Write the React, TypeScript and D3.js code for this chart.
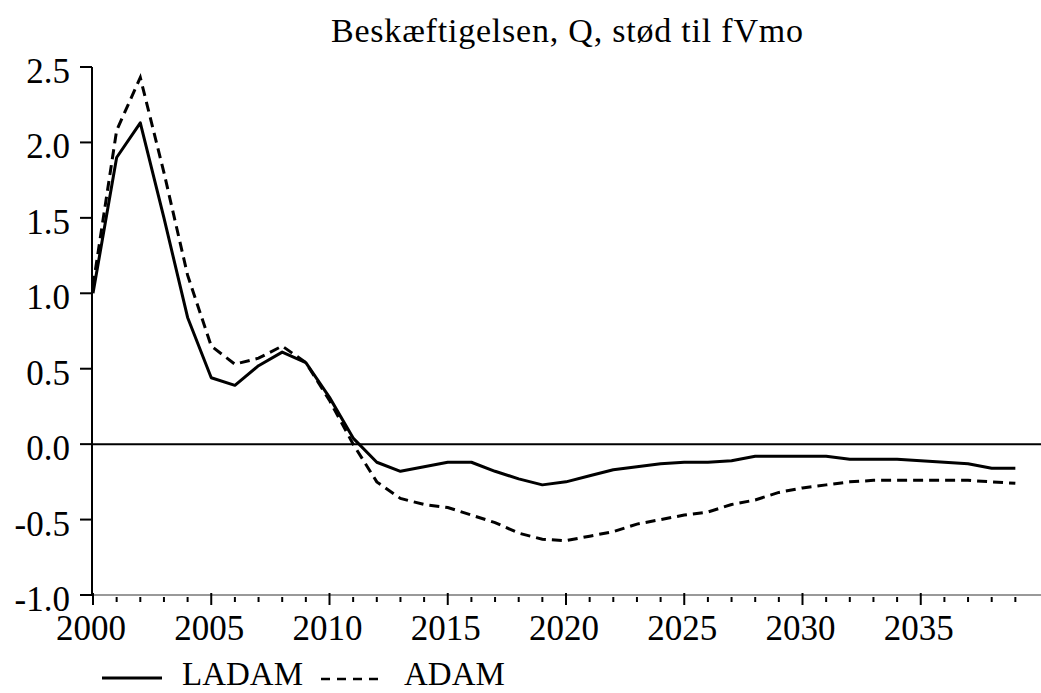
import React from "react";
import * as d3 from "d3";

const years = d3.range(2000, 2040);
const ladam = [
  1.0, 1.9, 2.13, 1.5, 0.84, 0.44, 0.39, 0.52, 0.61, 0.54,
  0.31, 0.04, -0.12, -0.18, -0.15, -0.12, -0.12, -0.18, -0.23, -0.27,
  -0.25, -0.21, -0.17, -0.15, -0.13, -0.12, -0.12, -0.11, -0.08, -0.08,
  -0.08, -0.08, -0.1, -0.1, -0.1, -0.11, -0.12, -0.13, -0.16, -0.16,
];
const adam = [
  1.05, 2.08, 2.43, 1.8, 1.12, 0.65, 0.53, 0.57, 0.65, 0.54,
  0.29, 0.0, -0.25, -0.36, -0.4, -0.42, -0.47, -0.52, -0.59, -0.63,
  -0.64, -0.61, -0.58, -0.53, -0.5, -0.47, -0.45, -0.4, -0.37, -0.32,
  -0.29, -0.27, -0.25, -0.24, -0.24, -0.24, -0.24, -0.24, -0.25, -0.26,
];
const yTicks = [2.5, 2.0, 1.5, 1.0, 0.5, 0.0, -0.5, -1.0];
const xLabels = [2000, 2005, 2010, 2015, 2020, 2025, 2030, 2035];
const title = "Beskæftigelsen, Q, stød til fVmo";

const width = 1041;
const height = 693;
const font = "'Liberation Serif', 'Times New Roman', serif";

export default function App() {
  const x = d3.scaleLinear().domain([2000, 2040]).range([93, 1039]);
  const y = d3.scaleLinear().domain([-1, 2.5]).range([595, 67]);

  const line = d3
    .line<number>()
    .x((_, i) => x(years[i]))
    .y((d) => y(d));

  return (
    <svg
      width={width}
      height={height}
      style={{ position: "absolute", left: 0, top: 0, background: "#fff" }}
      fontFamily={font}
    >
      {/* title */}
      <text x={331} y={42} fontSize={34} textLength={472} lengthAdjust="spacing">
        {title}
      </text>

      {/* x axis */}
      <line x1={92} x2={width} y1={y(-1)} y2={y(-1)} stroke="#999" strokeWidth={2} />
      {years.map((yr) => {
        const major = yr % 5 === 0;
        return (
          <line
            key={yr}
            x1={x(yr)}
            x2={x(yr)}
            y1={major ? 593 : 597}
            y2={major ? 605 : 602}
            stroke="#000"
            strokeWidth={2}
          />
        );
      })}
      {xLabels.map((yr) => (
        <text key={yr} x={x(yr) - 2} y={640} fontSize={35} textAnchor="middle">
          {yr}
        </text>
      ))}

      {/* y axis */}
      <line x1={92} x2={92} y1={y(2.5)} y2={y(-1)} stroke="#000" strokeWidth={2} />
      {yTicks.map((t) => (
        <g key={t}>
          <line x1={80} x2={92} y1={y(t)} y2={y(t)} stroke="#000" strokeWidth={2} />
          <text x={70} y={y(t) + 16} fontSize={35} textAnchor="end">
            {t.toFixed(1)}
          </text>
        </g>
      ))}

      {/* zero line */}
      <line x1={92} x2={width} y1={y(0)} y2={y(0)} stroke="#000" strokeWidth={2} />

      {/* series */}
      <path d={line(ladam) ?? ""} fill="none" stroke="#000" strokeWidth={3} strokeLinejoin="round" />
      <path
        d={line(adam) ?? ""}
        fill="none"
        stroke="#000"
        strokeWidth={3}
        strokeDasharray="10,6"
      />

      {/* legend */}
      <line x1={102} x2={162} y1={678} y2={678} stroke="#000" strokeWidth={3} />
      <text x={182} y={685} fontSize={33}>
        LADAM
      </text>
      <line x1={321} x2={378} y1={679} y2={679} stroke="#000" strokeWidth={2.5} strokeDasharray="9,7" />
      <text x={404} y={685} fontSize={33}>
        ADAM
      </text>
    </svg>
  );
}
